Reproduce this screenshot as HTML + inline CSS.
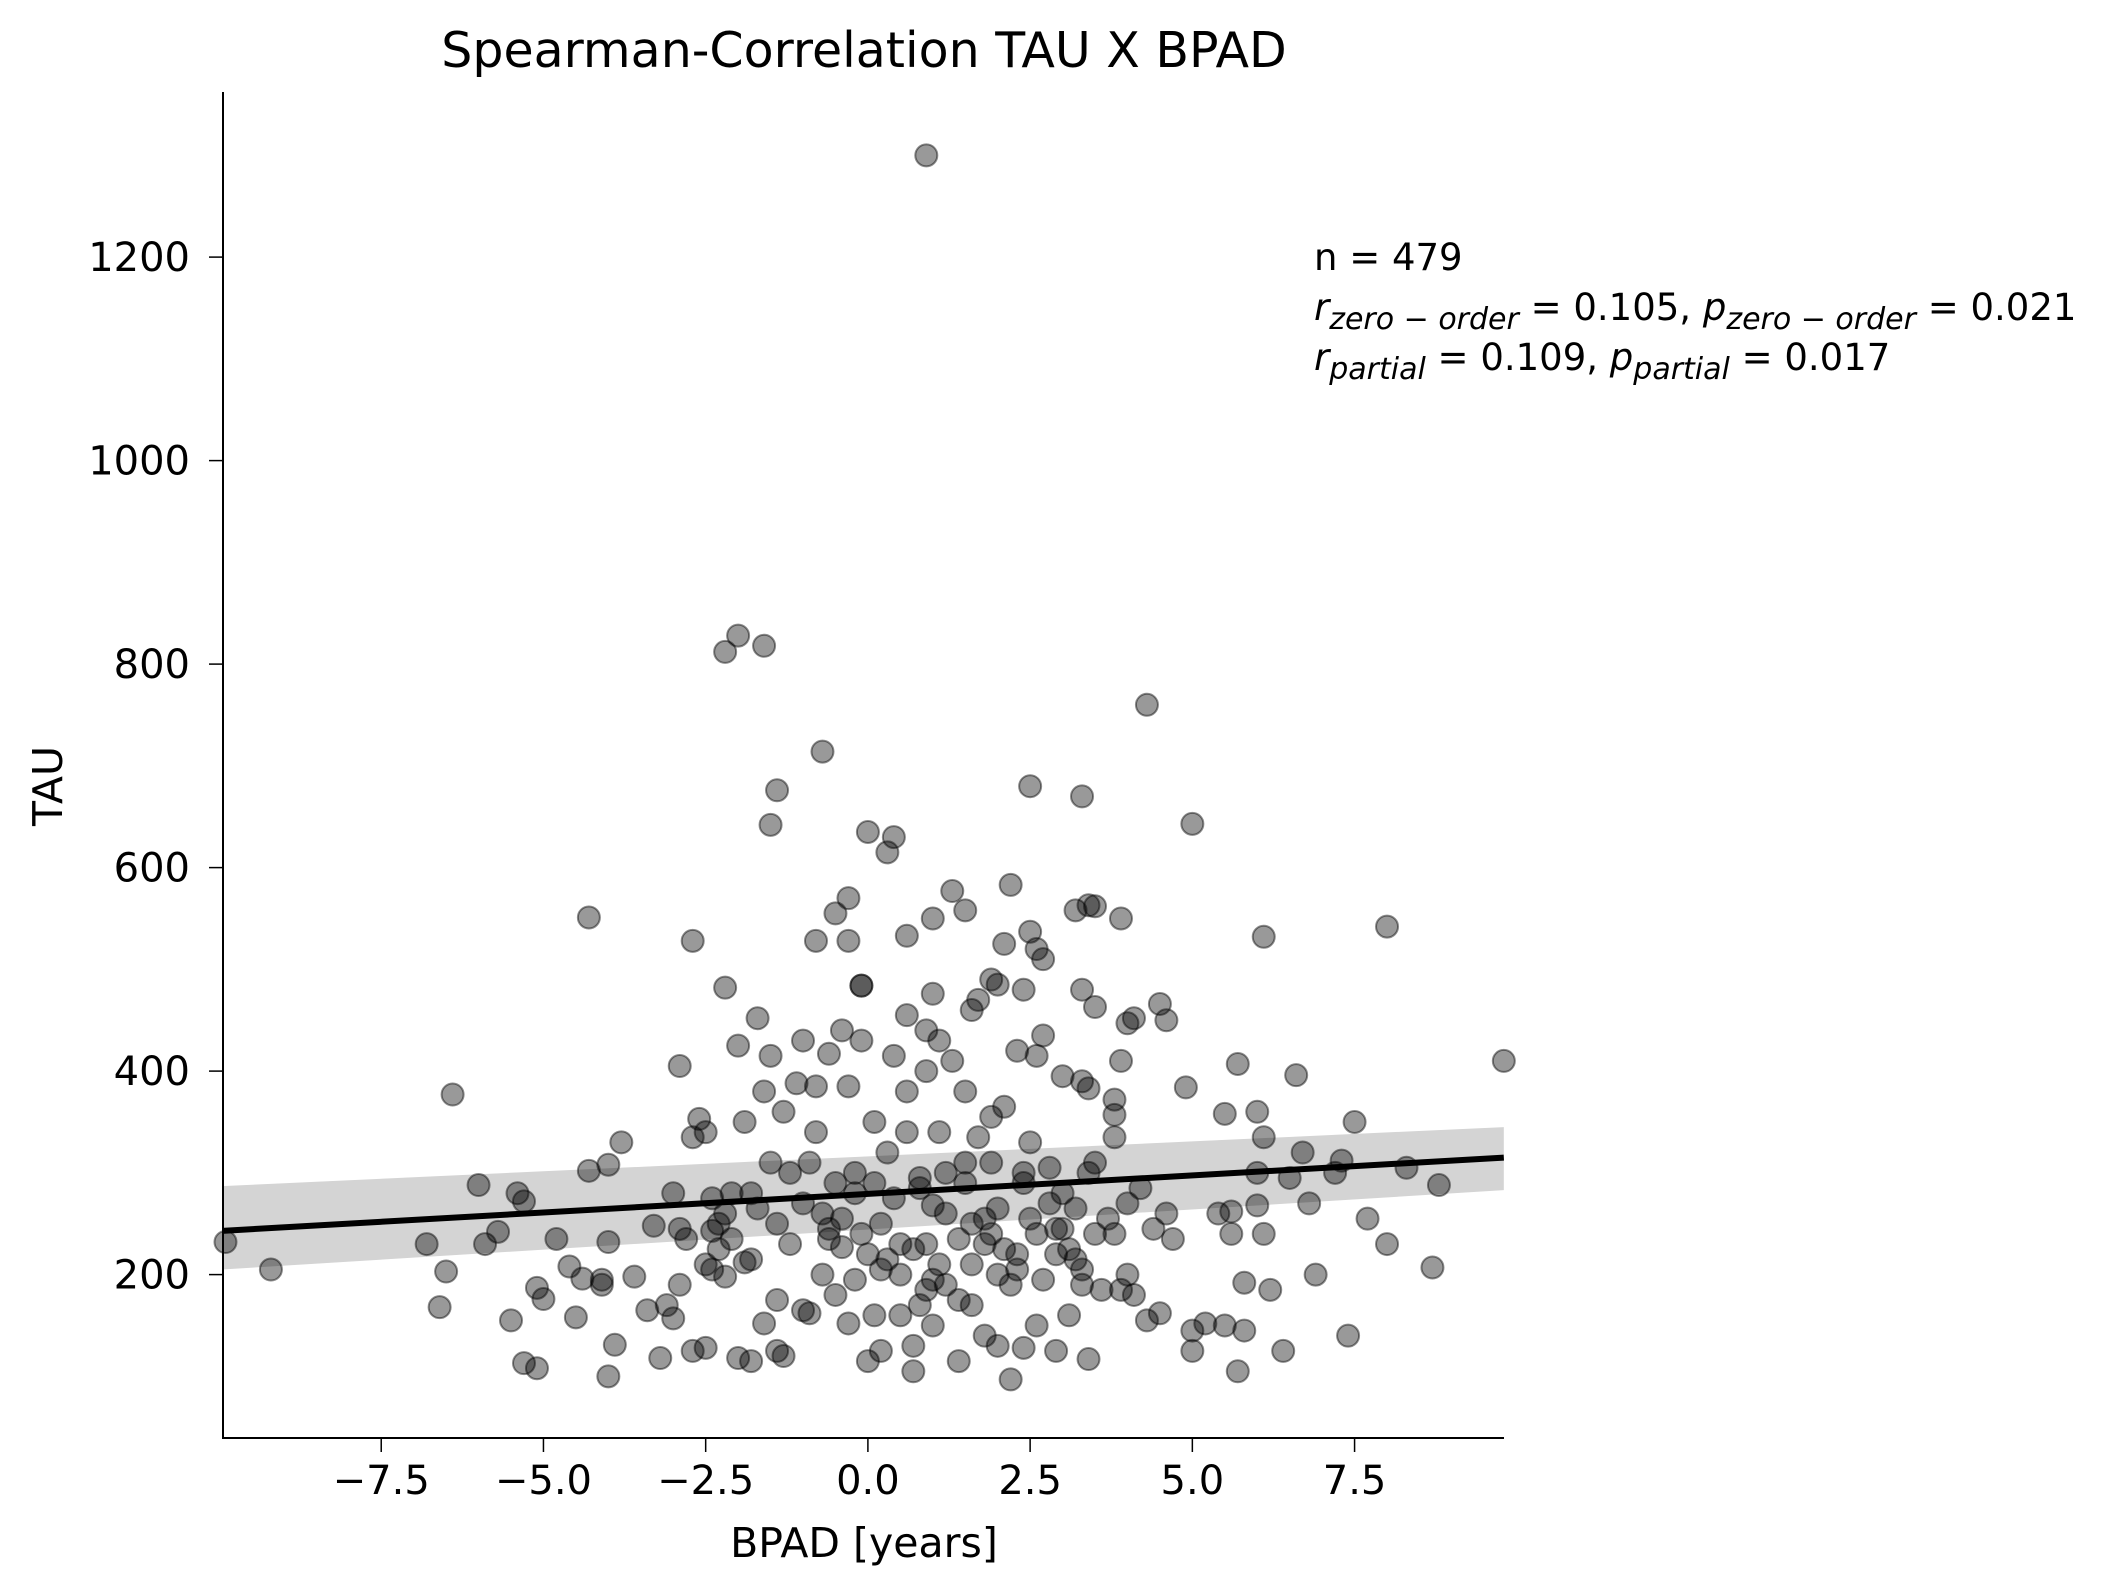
<!DOCTYPE html>
<html><head><meta charset="utf-8"><style>
html,body{margin:0;padding:0;background:#fff;}
svg{display:block;font-family:"DejaVu Sans","Liberation Sans",sans-serif;}
</style></head><body>
<svg id="chart" width="2122" height="1588" viewBox="0 0 2122 1588" xmlns="http://www.w3.org/2000/svg">
<text x="864" y="67" font-size="49" text-anchor="middle">Spearman-Correlation TAU X BPAD</text>
<g id="band-layer"></g>
<g id="points"></g>
<g id="line-layer"></g>
<g id="axes"></g>
<text x="864" y="1557" font-size="41" text-anchor="middle">BPAD [years]</text>
<text x="0" y="0" font-size="41" text-anchor="middle" transform="translate(62 786) rotate(-90)">TAU</text>
<g font-size="37">
<text x="1314" y="270">n = 479</text>
<text x="1314" y="320"><tspan font-style="italic">r</tspan><tspan font-style="italic" font-size="30" dy="9">zero − order</tspan><tspan dy="-9"> = 0.105, </tspan><tspan font-style="italic">p</tspan><tspan font-style="italic" font-size="30" dy="9">zero − order</tspan><tspan dy="-9"> = 0.021</tspan></text>
<text x="1314" y="370"><tspan font-style="italic">r</tspan><tspan font-style="italic" font-size="30" dy="9">partial</tspan><tspan dy="-9"> = 0.109, </tspan><tspan font-style="italic">p</tspan><tspan font-style="italic" font-size="30" dy="9">partial</tspan><tspan dy="-9"> = 0.017</tspan></text>
</g>
</svg>
<script>
const xTicks=[-7.5,-5.0,-2.5,0.0,2.5,5.0,7.5];
const yTicks=[200,400,600,800,1000,1200];
const fitX=[-9.95,9.8];
const fitY=[243,315];
const bandLo=[205,283];
const bandHi=[287,345];
const bpad=[0.9,-2.2,-2,-1.6,4.3,-0.7,2.5,3.3,-1.4,-1.5,0,0.4,0.3,5,-0.3,-0.5,0.6,1,1.3,1.5,2.2,3.2,3.4,3.5,3.9,-4.3,-2.7,-0.8,-0.3,-0.1,6.1,8,2.5,2.6,2.7,1.9,2,2.1,2.4,3.3,-2.2,-0.1,1,-1.7,0.6,0.9,1.6,1.7,3.5,4,4.1,4.5,4.6,-6.4,9.8,4.9,5.5,5.7,6.6,6,6.1,7.5,3.9,3.8,3.3,3.4,3.8,
-9.9,-9.2,-6.8,-6.6,-6.5,-6,-5.9,-5.7,-5.5,-5.4,-5.3,-5.3,-5.1,-5.1,-5,-4.8,-4.6,-4.4,-4.5,-4.3,-4.1,-4.1,-4,-4,-4,-3.9,-3.8,-3.6,-3.4,-3.3,-3.2,-3.1,-3,-3,-2.9,-2.9,-2.9,-2.8,-2.7,-2.7,-2.6,-2.5,-2.5,-2.5,-2.4,-2.4,-2.3,-2.3,-2.2,-2.2,-2.1,-2.1,-2,-2,-1.9,-1.9,-1.8,-1.8,-1.7,-1.6,-1.6,-1.5,-1.5,-1.4,-1.4,-1.4,-1.3,-1.3,-1.2,-1.1,-1,-1,-0.9,-0.9,-0.8,-0.8,-0.7,-0.7,-0.6,-0.6,-0.5,-0.5,-0.4,-0.4,-0.3,-0.3,-0.2,-0.2,-0.1,-0.1,0,0,0.1,0.1,0.2,0.2,0.3,0.4,0.4,0.5,0.5,0.6,0.6,0.7,0.7,0.8,0.8,0.9,0.9,1,1,1,1.1,1.1,1.2,1.2,1.3,1.4,1.4,1.5,1.5,1.6,1.6,1.7,1.8,1.8,1.9,1.9,2,2,2.1,2.2,2.2,2.3,2.3,2.4,2.4,2.5,2.5,2.6,2.6,2.7,2.7,2.8,2.9,2.9,3,3,3.1,3.1,3.2,3.3,3.3,3.4,3.4,3.5,3.5,3.6,3.7,3.8,3.8,3.9,4,4,4.1,4.2,4.3,4.4,4.5,4.6,4.7,5,5,5.2,5.4,5.5,5.6,5.6,5.7,5.8,5.8,6,6,6.1,6.2,6.4,6.5,6.7,6.8,6.9,7.2,7.4,7.7,8,8.3,8.7,8.8,7.3,
-1.2,-0.6,0.3,0.8,1.2,1.9,2.3,2.8,-0.2,0.5,1.1,1.6,2.1,-1.8,-2.4,0.1,0.7,1.4,2.0,2.6,3.2,-0.4,0.2,0.9,1.5,2.4,3.0,-1.0,1.8,2.9];
const tau=[1300,812,828,818,760,714,680,670,676,642,635,630,615,643,570,555,533,550,577,558,583,558,563,562,550,551,528,528,528,484,532,542,537,520,510,490,485,525,480,480,482,484,476,452,455,440,460,470,463,447,452,466,450,377,410,384,358,407,396,360,335,350,410,357,390,383,372,
232,205,230,168,203,288,230,242,155,280,272,113,108,187,176,235,208,196,158,302,190,195,232,100,308,131,330,198,165,248,118,170,157,280,190,245,405,235,125,335,353,340,210,128,275,243,250,225,198,260,280,235,425,118,212,350,115,280,265,380,152,415,310,250,125,175,360,120,300,388,430,165,310,162,385,340,260,200,417,235,290,180,440,227,152,385,280,195,430,240,220,115,350,160,250,125,320,415,275,160,200,340,380,130,105,295,170,230,400,268,150,195,430,340,190,300,410,235,115,380,290,210,170,335,140,255,310,355,200,130,365,190,97,420,220,300,128,255,330,150,415,195,435,305,245,125,395,280,160,225,265,190,205,300,117,240,310,185,255,335,240,185,200,270,180,285,155,245,162,260,235,125,145,152,260,150,240,262,105,192,145,300,268,240,185,125,295,320,270,200,300,140,255,230,305,207,288,312,
230,245,215,285,260,240,205,270,300,230,210,250,225,215,205,290,225,175,265,240,215,255,205,185,310,290,245,270,230,220];
const X0=223,X1=1504,Y0=1438,Y1=92;
function sx(v){return 867.9+v*64.89;}
function sy(v){return 1478.1-v*1.0175;}
const NS="http://www.w3.org/2000/svg";
function mk(tag,attrs,parent){const e=document.createElementNS(NS,tag);for(const k in attrs)e.setAttribute(k,attrs[k]);parent.appendChild(e);return e;}
const band=document.getElementById('band-layer');
const bp=mk('polygon',{points:`${sx(fitX[0])},${sy(bandLo[0])} ${sx(fitX[1])},${sy(bandLo[1])} ${sx(fitX[1])},${sy(bandHi[1])} ${sx(fitX[0])},${sy(bandHi[0])}`,fill:'#d4d4d4'},band);


const pts=document.getElementById('points');
for(let i=0;i<bpad.length;i++){
  const c=mk('circle',{cx:sx(bpad[i]),cy:sy(tau[i]),r:11,fill:'rgba(0,0,0,0.4)',stroke:'rgba(0,0,0,0.45)','stroke-width':2},pts);
  
  
}
const ll=document.getElementById('line-layer');
const ln=mk('line',{x1:sx(fitX[0]),y1:sy(fitY[0]),x2:sx(fitX[1]),y2:sy(fitY[1]),stroke:'#000','stroke-width':6},ll);


const ax=document.getElementById('axes');
mk('line',{x1:X0,y1:Y1,x2:X0,y2:Y0+1,stroke:'#000','stroke-width':2},ax);
mk('line',{x1:X0-1,y1:Y0,x2:X1,y2:Y0,stroke:'#000','stroke-width':2},ax);
for(const t of xTicks){
  mk('line',{x1:sx(t),y1:Y0,x2:sx(t),y2:Y0+14,stroke:'#000','stroke-width':1.5},ax);
  const tx=mk('text',{x:sx(t),y:Y0+56,'font-size':40,'text-anchor':'middle'},ax);
  tx.textContent=(t<0?'\u2212':'')+Math.abs(t).toFixed(1);
  
  
}
for(const t of yTicks){
  mk('line',{x1:X0-14,y1:sy(t),x2:X0,y2:sy(t),stroke:'#000','stroke-width':1.5},ax);
  const tx=mk('text',{x:X0-33,y:sy(t)+14,'font-size':40,'text-anchor':'end'},ax);
  tx.textContent=t;
  
  
}
</script>
</body></html>
